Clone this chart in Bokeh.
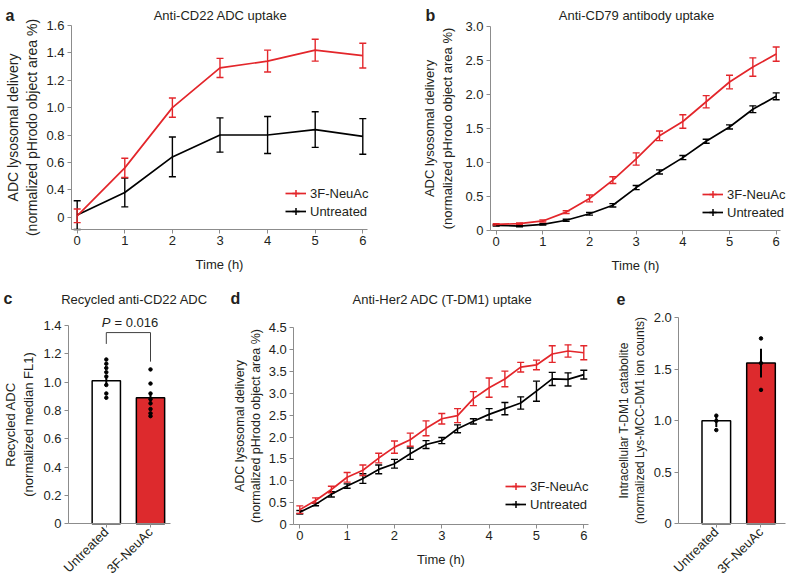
import math
from bokeh.plotting import figure
from bokeh.models import (Label, Legend, LegendItem, Whisker, TeeHead, ColumnDataSource,
                          FixedTicker, Range1d)
from bokeh.layouts import row, column
from bokeh.embed import file_html
from bokeh.resources import INLINE

# ---------------- data ----------------
# Panel a (values in axis units; the tick printed "0" sits at 0.2 on the original axis)
A_T = [0, 1, 2, 3, 4, 5, 6]
A_RED = [0.21, 0.56, 1.00, 1.29, 1.34, 1.42, 1.38]
A_RED_ERR = [0.05, 0.07, 0.07, 0.07, 0.08, 0.08, 0.09]
A_BLK = [0.215, 0.38, 0.64, 0.80, 0.80, 0.84, 0.79]
A_BLK_ERR = [0.105, 0.105, 0.145, 0.125, 0.135, 0.13, 0.13]
A_YTICKS = [0.2, 0.4, 0.6, 0.8, 1.0, 1.2, 1.4, 1.6]
A_YLABELS = ["0", "0.4", "0.6", "0.8", "1.0", "1.2", "1.4", "1.6"]

# Panel b
B_T = [0, 0.5, 1, 1.5, 2, 2.5, 3, 3.5, 4, 4.5, 5, 5.5, 6]
B_RED = [0.09, 0.10, 0.14, 0.27, 0.47, 0.74, 1.05, 1.39, 1.60, 1.89, 2.18, 2.40, 2.59]
B_RED_ERR = [0.01, 0.01, 0.015, 0.02, 0.05, 0.05, 0.09, 0.07, 0.10, 0.09, 0.10, 0.135, 0.105]
B_BLK = [0.075, 0.065, 0.09, 0.15, 0.245, 0.37, 0.63, 0.86, 1.07, 1.31, 1.52, 1.78, 1.97]
B_BLK_ERR = [0.01, 0.01, 0.01, 0.015, 0.02, 0.025, 0.03, 0.03, 0.03, 0.03, 0.03, 0.05, 0.05]
B_YTICKS = [0, 0.5, 1.0, 1.5, 2.0, 2.5, 3.0]
B_YLABELS = ["0", "0.5", "1.0", "1.5", "2.0", "2.5", "3.0"]

# Panel c
C_CATS = ["Untreated", "3F-NeuAc"]
C_MEAN = [1.01, 0.89]
C_ERR = [0.03, 0.035]
C_DOTS_UNT = [1.16, 1.13, 1.10, 1.07, 1.04, 0.98, 0.92, 0.89]
C_DOTS_3F = [1.09, 0.99, 0.92, 0.88, 0.85, 0.81, 0.78, 0.76]
C_YTICKS = [0, 0.2, 0.4, 0.6, 0.8, 1.0, 1.2, 1.4]
C_YLABELS = ["0", "0.2", "0.4", "0.6", "0.8", "1.0", "1.2", "1.4"]
C_PVALUE = "0.016"

# Panel d
D_T = [0, 0.333, 0.667, 1, 1.333, 1.667, 2, 2.333, 2.667, 3, 3.333, 3.667,
       4, 4.333, 4.667, 5, 5.333, 5.667, 6]
D_RED = [0.34, 0.55, 0.80, 1.08, 1.24, 1.52, 1.77, 1.94, 2.20, 2.42, 2.49, 2.88,
         3.13, 3.33, 3.60, 3.65, 3.90, 3.97, 3.93]
D_RED_ERR = [0.085, 0.06, 0.075, 0.11, 0.12, 0.11, 0.14, 0.15, 0.17, 0.12, 0.16, 0.16,
             0.22, 0.18, 0.11, 0.11, 0.19, 0.14, 0.16]
D_BLK = [0.28, 0.46, 0.69, 0.88, 1.05, 1.26, 1.39, 1.62, 1.83, 1.92, 2.19, 2.36,
         2.52, 2.65, 2.78, 3.05, 3.33, 3.32, 3.43]
D_BLK_ERR = [0.04, 0.03, 0.06, 0.05, 0.11, 0.10, 0.10, 0.13, 0.09, 0.07, 0.09, 0.06,
             0.13, 0.14, 0.14, 0.23, 0.15, 0.15, 0.10]
D_YTICKS = [0, 0.5, 1.0, 1.5, 2.0, 2.5, 3.0, 3.5, 4.0, 4.5]
D_YLABELS = ["0", "0.5", "1.0", "1.5", "2.0", "2.5", "3.0", "3.5", "4.0", "4.5"]

# Panel e
E_CATS = ["Untreated", "3F-NeuAc"]
E_MEAN = [1.00, 1.56]
E_ERR = [0.06, 0.14]
E_DOTS_UNT = [1.05, 1.00, 0.91]
E_DOTS_3F = [1.80, 1.56, 1.30]
E_YTICKS = [0, 0.5, 1.0, 1.5, 2.0]
E_YLABELS = ["0", "0.5", "1.0", "1.5", "2.0"]

TIME_TICKS = [0, 1, 2, 3, 4, 5, 6]

# ---------------- style ----------------
FONT = "Liberation Sans"
RED = "#e3262b"
BAR_RED = "#dd2a2d"
TXT = "#231f20"
AX = "#8c8c8c"


def base_fig(w, h, xr, yr, x_axis_at, y_axis_at, xbounds, ybounds,
             ylabel_size="13px", ylabel_standoff=5):
    p = figure(width=w, height=h, title=None,
               min_border_left=0, min_border_right=0, min_border_top=0, min_border_bottom=0,
               x_range=Range1d(*xr), y_range=Range1d(*yr),
               output_backend="svg", toolbar_location=None)
    p.outline_line_color = None
    p.grid.visible = False
    xa, ya = p.xaxis[0], p.yaxis[0]
    xa.fixed_location = x_axis_at
    xa.bounds = xbounds
    ya.fixed_location = y_axis_at
    ya.bounds = ybounds
    for ax in (xa, ya):
        ax.axis_line_color = AX
        ax.major_tick_line_color = AX
        ax.major_tick_in = 0
        ax.major_tick_out = 4
        ax.minor_tick_line_color = None
        ax.major_label_text_font = FONT
        ax.major_label_text_font_size = "13px"
        ax.major_label_text_color = TXT
        ax.major_label_standoff = 3
        ax.axis_label_text_font = FONT
        ax.axis_label_text_font_size = "13px"
        ax.axis_label_text_font_style = "normal"
        ax.axis_label_text_color = TXT
    ya.axis_label_text_font_size = ylabel_size
    ya.axis_label_standoff = ylabel_standoff
    xa.axis_label_standoff = 8
    return p


def set_yticks(p, ticks, labels):
    p.yaxis[0].ticker = FixedTicker(ticks=ticks)
    p.yaxis[0].major_label_overrides = {t: s for t, s in zip(ticks, labels)}


def add_text(p, x, y, text, size="13px", style="normal", align="center",
             baseline="middle", x_units="screen"):
    p.add_layout(Label(x=x, y=y, x_units=x_units, y_units="screen", text=text,
                       text_font=FONT, text_font_size=size, text_font_style=style,
                       text_align=align, text_baseline=baseline, text_color=TXT))


def line_panel(p, t, red, red_err, blk, blk_err, leg_loc):
    items = []
    for vals, errs, color, name in ((blk, blk_err, "black", "Untreated"),
                                    (red, red_err, RED, "3F-NeuAc")):
        src = ColumnDataSource(dict(t=t, y=vals,
                                    lo=[v - e for v, e in zip(vals, errs)],
                                    hi=[v + e for v, e in zip(vals, errs)]))
        p.add_layout(Whisker(base="t", upper="hi", lower="lo", source=src,
                             line_color=color, line_width=1.4,
                             upper_head=TeeHead(size=7, line_color=color, line_width=1.4),
                             lower_head=TeeHead(size=7, line_color=color, line_width=1.4)))
        ln = p.line("t", "y", source=src, line_color=color, line_width=1.7)
        mk = p.scatter("t", "y", source=src, marker="cross", size=0,
                       line_color=color, line_width=1.5)
        items.append(LegendItem(label=name, renderers=[ln, mk]))
    items.reverse()
    leg = Legend(items=items, location=leg_loc, glyph_width=21, glyph_height=18,
                 label_height=18, label_standoff=4, spacing=0, padding=0, margin=0,
                 border_line_color=None, background_fill_alpha=0,
                 label_text_font=FONT, label_text_font_size="13px",
                 label_text_color=TXT)
    p.add_layout(leg)
    p.xaxis[0].ticker = FixedTicker(ticks=TIME_TICKS)
    p.xaxis[0].axis_label = "Time (h)"


def bar_panel(p, cats, means, errs, dots_unt, dots_3f):
    x = [1, 2]
    p.vbar(x=x, top=means, width=0.64, fill_color=["white", BAR_RED],
           line_color="black", line_width=1.5)
    p.segment(x0=x, x1=x, y0=[m - e for m, e in zip(means, errs)],
              y1=[m + e for m, e in zip(means, errs)], line_color="black", line_width=2)
    p.scatter([1] * len(dots_unt), dots_unt, size=3.5, color="black")
    p.scatter([2] * len(dots_3f), dots_3f, size=3.5, color="black")
    p.xaxis[0].ticker = FixedTicker(ticks=x)
    p.xaxis[0].major_label_overrides = {xi: c for xi, c in zip(x, cats)}
    p.xaxis[0].major_label_orientation = math.pi / 4
    p.xaxis[0].major_label_standoff = 2


# ---------------- panel a ----------------
pa = base_fig(400, 285, (-1.611, 6.792), (-0.2992, 1.7826),
              0.11, -0.12, (-0.12, 6.1), (0.11, 1.6),
              ylabel_size="14px", ylabel_standoff=3)
line_panel(pa, A_T, A_RED, A_RED_ERR, A_BLK, A_BLK_ERR, (285, 65))
set_yticks(pa, A_YTICKS, A_YLABELS)
pa.yaxis[0].axis_label = "ADC lysosomal delivery\n(normalized pHrodo object area %)"
add_text(pa, 220, 270, "Anti-CD22 ADC uptake")
add_text(pa, 5, 270, "a", size="16px", style="bold", align="left", baseline="alphabetic")

# ---------------- panel b ----------------
pb = base_fig(400, 285, (-2.050, 6.521), (-0.808, 3.377),
              0, -0.122, (-0.122, 6.09), (0, 3.0),
              ylabel_size="13px", ylabel_standoff=7)
line_panel(pb, B_T, B_RED, B_RED_ERR, B_BLK, B_BLK_ERR, (302, 64))
set_yticks(pb, B_YTICKS, B_YLABELS)
pb.yaxis[0].axis_label = "ADC lysosomal delivery\n(normalized pHrodo object area %)"
add_text(pb, 236, 270, "Anti-CD79 antibody uptake")
add_text(pb, 25, 270, "b", size="16px", style="bold", align="left", baseline="alphabetic")

# ---------------- panel c ----------------
pc = base_fig(215, 298, (-1.3937, 3.4706), (-0.4216, 1.6825),
              0, 0.145, (0.145, 2.45), (0, 1.4),
              ylabel_size="13px", ylabel_standoff=4)
bar_panel(pc, C_CATS, C_MEAN, C_ERR, C_DOTS_UNT, C_DOTS_3F)
set_yticks(pc, C_YTICKS, C_YLABELS)
pc.yaxis[0].axis_label = "Recycled ADC\n(normalized median FL1)"
pc.line([1, 1, 2, 2], [1.27, 1.35, 1.35, 1.145], line_color="#404040", line_width=1)
add_text(pc, 134, 284, "Recycled anti-CD22 ADC")
add_text(pc, 110, 261.5, "P", style="italic", align="right")
add_text(pc, 114, 261.5, "= " + C_PVALUE, align="left")
add_text(pc, 3, 285, "c", size="16px", style="bold", align="left", baseline="alphabetic")

# ---------------- panel d ----------------
pd_ = base_fig(385, 298, (-1.781, 6.353), (-1.350, 5.468),
               0, -0.127, (-0.127, 6.1), (0, 4.5),
               ylabel_size="12.5px", ylabel_standoff=2)
line_panel(pd_, D_T, D_RED, D_RED_ERR, D_BLK, D_BLK_ERR, (290, 70))
set_yticks(pd_, D_YTICKS, D_YLABELS)
pd_.yaxis[0].axis_label = "ADC lysosomal delivery\n(normalized pHrodo object area %)"
add_text(pd_, 227, 284, "Anti-Her2 ADC (T-DM1) uptake")
add_text(pd_, 15, 285, "d", size="16px", style="bold", align="left", baseline="alphabetic")

# ---------------- panel e ----------------
pe = base_fig(200, 298, (-1.5906, 2.8837), (-0.5796, 2.3136),
              0, 0.161, (0.161, 2.55), (0, 2.0),
              ylabel_size="12px", ylabel_standoff=3)
bar_panel(pe, E_CATS, E_MEAN, E_ERR, E_DOTS_UNT, E_DOTS_3F)
set_yticks(pe, E_YTICKS, E_YLABELS)
pe.yaxis[0].axis_label = "Intracellular T-DM1 catabolite\n(normalized Lys-MCC-DM1 ion counts)"
add_text(pe, 16, 285, "e", size="16px", style="bold", align="left", baseline="alphabetic")

layout = column(row(pa, pb), row(pc, pd_, pe))
open("out.html", "w").write(file_html(layout, INLINE))
